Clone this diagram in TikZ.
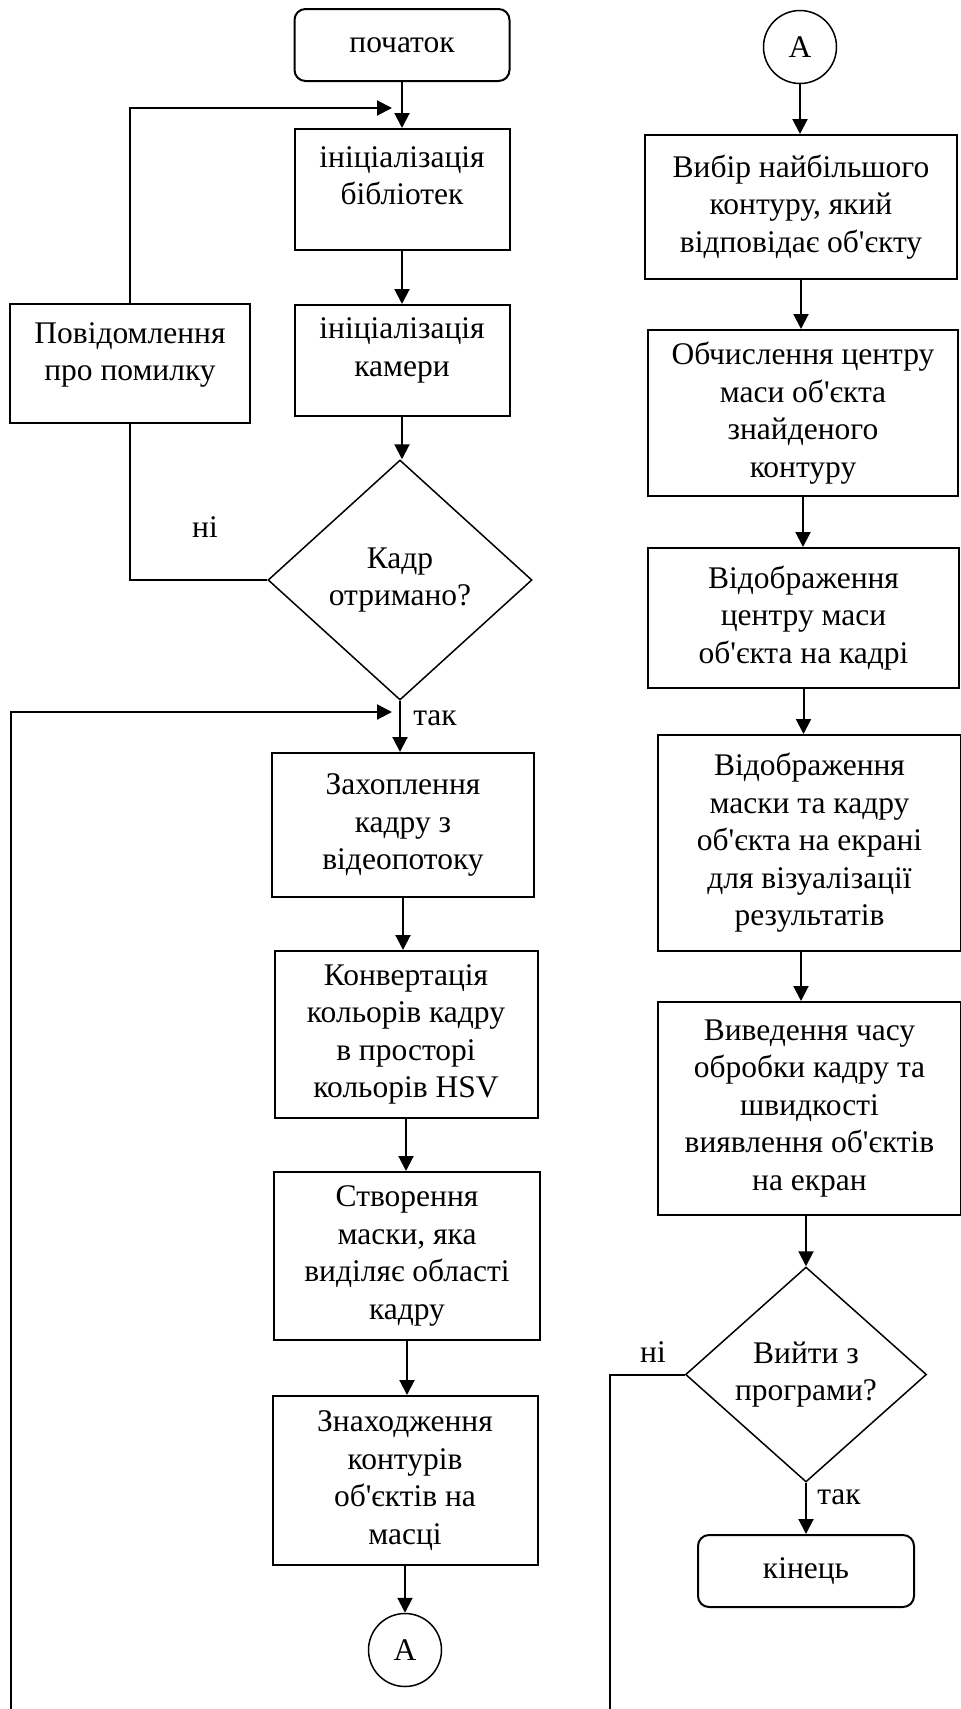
\documentclass[tikz,border=0pt]{standalone}
\usepackage{fontspec}
\setmainfont{Liberation Serif}
\usetikzlibrary{shapes.geometric,arrows.meta}
\newcommand{\ap}{\textquotesingle}

\begin{document}
\begin{tikzpicture}[x=1pt,y=-1pt,
    font=\fontsize{31.5}{37.5}\selectfont,
    blok/.style={draw,line width=2pt,align=center,inner sep=0pt},
    term/.style={blok,rounded corners=11pt},
    rishennya/.style={draw,diamond,line width=1.5pt,align=center,inner sep=0pt},
    zvyazok/.style={draw,circle,line width=1.5pt,minimum size=73pt,inner sep=0pt},
    strilka/.style={line width=2pt,-{Triangle[length=15pt,width=15pt]}},
    liniya/.style={line width=2pt}]
        \useasboundingbox (0,0) rectangle (961,1709);

        % Left column
        \node[term,minimum width=215pt,minimum height=72pt] (start) at (402,45) {початок};
        \node[blok,minimum width=215pt,minimum height=121pt,text depth=28pt] (lib) at (402,189.5) {ініціалізація\\бібліотек};
        \node[blok,minimum width=215pt,minimum height=111pt,text depth=27pt] (cam) at (402,360.5) {ініціалізація\\камери};
        \node[blok,minimum width=240pt,minimum height=119pt,text depth=24pt] (err) at (130,363.5) {Повідомлення\\про помилку};
        \node[rishennya,minimum width=264pt,minimum height=240pt] (kadr) at (400,580) {Кадр\\отримано?};
        \node[blok,minimum width=262pt,minimum height=144pt] (cap) at (403,825) {Захоплення\\кадру з\\відеопотоку};
        \node[blok,minimum width=263pt,minimum height=167pt] (conv) at (406,1034.5) {Конвертація\\кольорів кадру\\в просторі\\кольорів HSV};
        \node[blok,minimum width=266pt,minimum height=168pt] (mask) at (407,1256) {Створення\\маски, яка\\виділяє області\\кадру};
        \node[blok,minimum width=265pt,minimum height=169pt] (cont) at (405,1480.5) {Знаходження\\контурів\\об\ap єктів на\\масці};
        \node[zvyazok] (conA) at (405,1650) {A};

        % Right column
        \node[zvyazok] (conB) at (800,47) {A};
        \node[blok,minimum width=312pt,minimum height=144pt] (vyb) at (801,207) {Вибір найбільшого\\контуру, який\\відповідає об\ap єкту};
        \node[blok,minimum width=310pt,minimum height=166pt] (obch) at (803,413) {Обчислення центру\\маси об\ap єкта\\знайденого\\контуру};
        \node[blok,minimum width=311pt,minimum height=140pt] (vidc) at (803.5,618) {Відображення\\центру маси\\об\ap єкта на кадрі};
        \node[blok,minimum width=303pt,minimum height=216pt] (vidm) at (809.5,843) {Відображення\\маски та кадру\\об\ap єкта на екрані\\для візуалізації\\результатів};
        \node[blok,minimum width=303pt,minimum height=213pt] (vyv) at (809.5,1108.5) {Виведення часу\\обробки кадру та\\швидкості\\виявлення об\ap єктів\\на екран};
        \node[rishennya,minimum width=241pt,minimum height=215pt] (vyjty) at (806,1374.5) {Вийти з\\програми?};
        \node[term,minimum width=216pt,minimum height=72pt] (end) at (806,1571) {кінець};

        % Loop entry points
        \coordinate (zlyttya1) at (392,108);
        \coordinate (zlyttya2) at (392,712);
        \coordinate (vhid) at (11,1709);
        \coordinate (vyhid) at (610,1709);

        % Arrows, left column
        \draw[strilka] (start) -- (lib);
        \draw[strilka] (lib) -- (cam);
        \draw[strilka] (cam.south) -- (cam.south |- kadr.north);
        \draw[liniya] (kadr.west) -| (err.south);
        \draw[strilka] (err.north) |- (zlyttya1);
        \node at (205,527) {ні};
        \draw[strilka] (kadr.south) -- (kadr.south |- cap.north);
        \node at (435,718) {так};
        \draw[strilka] (vhid) |- (zlyttya2);
        \draw[strilka] (cap.south) -- (cap.south |- conv.north);
        \draw[strilka] (conv.south) -- (conv.south |- mask.north);
        \draw[strilka] (mask.south) -- (mask.south |- cont.north);
        \draw[strilka] (cont.south) -- (cont.south |- conA.north);

        % Arrows, right column
        \draw[strilka] (conB.south) -- (conB.south |- vyb.north);
        \draw[strilka] (vyb.south) -- (vyb.south |- obch.north);
        \draw[strilka] (obch.south) -- (obch.south |- vidc.north);
        \draw[strilka] (vidc.south) -- (vidc.south |- vidm.north);
        \draw[strilka] (vyb.south |- vidm.south) -- (vyb.south |- vyv.north);
        \draw[strilka] (vyjty.north |- vyv.south) -- (vyjty.north);
        \draw[liniya] (vyjty.west) -| (vyhid);
        \node at (653,1352) {ні};
        \draw[strilka] (vyjty.south) -- (vyjty.south |- end.north);
        \node at (839,1497) {так};
    \end{tikzpicture}
\end{document}
